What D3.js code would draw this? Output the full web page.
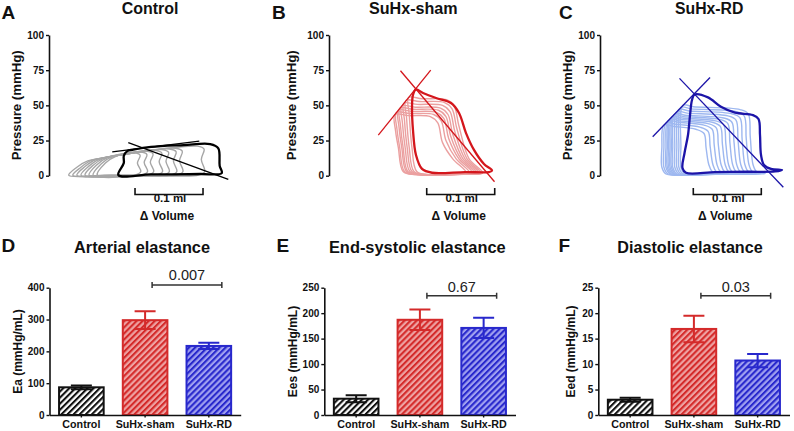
<!DOCTYPE html>
<html>
<head>
<meta charset="utf-8">
<script src="https://cdn.jsdelivr.net/npm/d3@7/dist/d3.min.js"></script>
<style>
  html, body { margin: 0; padding: 0; background: #ffffff; }
  svg { display: block; font-family: "Liberation Sans", Arial, Helvetica, sans-serif; }
</style>
</head>
<body>
<svg id="chart" width="794" height="431"></svg>
<script>
// ---------------- DATA ----------------
// Pressure-volume loops: [relative volume (µL), pressure (mmHg)]
const pvYTicks = [0, 25, 50, 75, 100];
const pvTitles = ["Control", "SuHx-sham", "SuHx-RD"];
const pvLetters = ["A", "B", "C"];
const scaleBarStart = [126.5, 143.7, 137.2];   // µL
const scaleBarLength = 100;                    // µL = 0.1 ml

const controlGrayLoops = [
  [[29,0.3],[41,6],[57,10.5],[79,12.5],[124,16.5],[134,14.5],[130,9],[135,3],[126,0.4],[82,0.3]],
  [[35,0.3],[47,6],[63,11],[85,13],[134,17],[144,15],[140,9.4],[145,3],[136,0.4],[90,0.3]],
  [[41,0.3],[53,6.5],[69,11.5],[91,13.5],[143,17.5],[153,15.5],[149,9.6],[154,3],[145,0.4],[97,0.3]],
  [[47,0.3],[59,7],[75,12],[97,14],[156,18],[166,16],[162,9.9],[167,3],[158,0.4],[106,0.3]],
  [[53,0.3],[65,7.5],[81,12.5],[103,14.5],[166,18.5],[176,16.5],[172,10.2],[177,3],[168,0.4],[114,0.3]],
  [[59,0.3],[71,8],[87,13],[109,15],[177,19],[187,17],[183,10.5],[188,3],[179,0.4],[123,0.3]],
  [[65,0.3],[77,8.5],[93,13.5],[115,15.5],[186,19.5],[196,17.5],[192,10.7],[197,3],[188,0.4],[130,0.3]],
  [[71,0.3],[83,9],[99,14],[121,16],[218,21],[228,19],[224,11.5],[229,3],[220,0.4],[150,0.3]]
];
const controlBoldLoop = [[102,0.5],[110,9],[110,14],[115,17.5],[124,18.5],[150,20.5],[198,21.8],[237,22.5],[249,19.5],[251,7],[254,1.8],[222,1.2],[150,0.9]];
const controlEspvr = [[93,17],[221,24.5]];
const controlEa = [[116.6,23.5],[263.7,-2.6]];

const shamPaleLoops = [
  [[97,43.5],[117,42.7],[149,42],[160,37.5],[167,23.5],[182,12],[202,2],[177,1],[127,0.8],[109,3],[102,20],[98,31.5]],
  [[99,45],[119,44.2],[154,43.5],[165,39],[172,25],[187,12],[207,2],[182,1],[129,0.8],[111,3],[104,20],[100,33]],
  [[102,46.5],[122,45.7],[158,45],[169,40.5],[176,26.5],[191,12],[211,2],[186,1],[132,0.8],[114,3],[107,20],[103,34.5]],
  [[104,48],[124,47.2],[161,46.5],[172,42],[179,28],[194,12],[214,2],[189,1],[134,0.8],[116,3],[109,20],[105,36]],
  [[107,49.5],[127,48.7],[164,48],[175,43.5],[182,29.5],[197,12],[217,2],[192,1],[137,0.8],[119,3],[112,20],[108,37.5]],
  [[110,51.5],[130,50.7],[167,50],[178,45.5],[185,31.5],[200,12],[220,2],[195,1],[140,0.8],[122,3],[115,20],[111,39.5]],
  [[113,53.5],[133,52.7],[170,52],[181,47.5],[188,33.5],[203,12],[223,2],[198,1],[143,0.8],[125,3],[118,20],[114,41.5]],
  [[117,55.5],[137,54.7],[173,54],[184,49.5],[191,35.5],[206,12],[226,2],[201,1],[147,0.8],[129,3],[122,20],[118,43.5]]
];
const shamBoldLoop = [[127.9,61.3],[138.2,58.8],[157.4,55.2],[179.4,51.7],[191.2,44.6],[201.5,30.3],[213.2,18.3],[227.9,8.3],[239.7,3.7],[235.3,2.6],[200,2.6],[151.5,2.1],[136.8,4.8],[127.9,14.7],[123.5,32.5],[122.1,48.1],[123.5,57.4]];
const shamEspvr = [[72.5,28.9],[149.6,75.1]];
const shamEa = [[105.1,74.6],[243.4,-4.3]];

const rdPaleLoops = [
  [[94,36],[109,35],[141,33],[153,30],[156,19.8],[160,8],[165,3],[178,1.5],[124,1],[97,1.2],[91,6],[91,20]],
  [[97,37.5],[112,36.5],[147,34.5],[159,31.5],[162,20.6],[166,8],[171,3],[184,1.5],[128,1],[100,1.2],[94,6],[94,20]],
  [[100,39],[115,38],[153,36],[165,33],[168,21.5],[172,8],[177,3],[190,1.5],[132,1],[103,1.2],[97,6],[97,20]],
  [[102,40],[117,39],[159,37],[171,34],[174,22],[178,8],[183,3],[196,1.5],[136,1],[105,1.2],[99,6],[99,20]],
  [[104,41],[119,40],[165,38],[177,35],[180,22.5],[184,8],[189,3],[202,1.5],[140,1],[107,1.2],[101,6],[101,20]],
  [[106,42],[121,41],[170,39],[182,36],[185,23],[189,8],[194,3],[207,1.5],[144,1],[109,1.2],[103,6],[103,20]],
  [[108,43],[123,42],[176,40],[188,37],[191,23.6],[195,8],[200,3],[213,1.5],[148,1],[111,1.2],[105,6],[105,20]],
  [[110,44],[125,43],[182,41],[194,38],[197,24.2],[201,8],[206,3],[219,1.5],[152,1],[113,1.2],[107,6],[107,20]],
  [[113,45.5],[128,44.5],[188,42.5],[200,39.5],[203,25],[207,8],[212,3],[225,1.5],[156,1],[116,1.2],[110,6],[110,20]],
  [[116,47],[131,46],[194,44],[206,41],[209,25.9],[213,8],[218,3],[231,1.5],[161,1],[119,1.2],[113,6],[113,20]],
  [[119,48.5],[134,47.5],[200,45.5],[212,42.5],[215,26.7],[219,8],[224,3],[237,1.5],[165,1],[122,1.2],[116,6],[116,20]],
  [[122,50],[137,49],[206,47],[218,44],[221,27.5],[225,8],[230,3],[243,1.5],[170,1],[125,1.2],[119,6],[119,20]]
];
const rdBoldLoop = [[139,57.7],[158.8,55.7],[177.9,49],[198.5,44.8],[225,43.1],[233.1,40.3],[235.3,28.9],[236.8,14.7],[241.2,7.6],[251.5,4.8],[267.6,4.1],[257.4,3],[217.6,2.8],[169.1,2.6],[126.5,2.1],[121.3,5.5],[124.3,16.1],[129.4,28.9],[132.4,43.1],[135.3,53.8]];
const rdEspvr = [[77.5,27.7],[161.8,69.8]];
const rdEa = [[116.9,69.2],[269.6,-8.2]];

// Bar charts
const groups = ["Control", "SuHx-sham", "SuHx-RD"];
const eaMean = [87, 298, 217];
const eaSem = [6, 28, 10];
const eesMean = [32, 187, 171];
const eesSem = [7, 20, 20];
const eedMean = [3.0, 16.9, 10.7];
const eedSem = [0.4, 2.6, 1.3];
const eaTicks = [0, 100, 200, 300, 400];
const eesTicks = [0, 50, 100, 150, 200, 250];
const eedTicks = [0, 5, 10, 15, 20, 25];
const barTitles = ["Arterial elastance", "End-systolic elastance", "Diastolic elastance"];
const barLetters = ["D", "E", "F"];
const barYLabels = ["Ea (mmHg/mL)", "Ees (mmHg/mL)", "Eed (mmHg/mL)"];
const pValues = ["0.007", "0.67", "0.03"];

// ---------------- DRAW ----------------
const svg = d3.select("#chart");
svg.append("rect").attr("width", 794).attr("height", 431).attr("fill", "#fff");
const defs = svg.append("defs");

function hatch(id, bg, fg) {
  const w = 4.3;
  const p = defs.append("pattern").attr("id", id)
    .attr("patternUnits", "userSpaceOnUse")
    .attr("width", w).attr("height", w)
    .attr("patternTransform", "rotate(45)");
  p.append("rect").attr("width", w).attr("height", w).attr("fill", bg);
  p.append("rect").attr("width", 2.1).attr("height", w).attr("fill", fg);
}
hatch("hCtrl", "#ffffff", "#111111");
hatch("hSham", "#eea2a2", "#d42a2a");
hatch("hRd", "#a0a0f0", "#2828cc");

const groupStyle = [
  { fill: "url(#hCtrl)", stroke: "#111111" },
  { fill: "url(#hSham)", stroke: "#d42a2a" },
  { fill: "url(#hRd)", stroke: "#2828cc" }
];

function styleAxis(g, fs) {
  g.selectAll(".domain").attr("stroke", "#111").attr("stroke-width", 1.6);
  g.selectAll(".tick line").attr("stroke", "#111").attr("stroke-width", 1.4);
  g.selectAll(".tick text").attr("font-size", fs).attr("font-weight", "bold")
    .attr("fill", "#111").attr("font-family", "Liberation Sans, Arial, sans-serif");
}

function titleText(x, y, txt, len, size) {
  svg.append("text").attr("x", x).attr("y", y).attr("text-anchor", "middle")
    .attr("font-size", size).attr("font-weight", "bold").attr("fill", "#111")
    .attr("textLength", len).attr("lengthAdjust", "spacingAndGlyphs").text(txt);
}
function letterText(x, y, txt) {
  svg.append("text").attr("x", x).attr("y", y).attr("font-size", 19)
    .attr("font-weight", "bold").attr("fill", "#111").text(txt);
}
function rotLabel(xBase, yCenter, txt, size, len) {
  const t = svg.append("text").attr("transform", `translate(${xBase},${yCenter}) rotate(-90)`)
    .attr("text-anchor", "middle").attr("font-size", size).attr("font-weight", "bold")
    .attr("fill", "#111").text(txt);
  if (len) t.attr("textLength", len).attr("lengthAdjust", "spacingAndGlyphs");
}

// ---- PV panels ----
const pvAxisX = [49, 329, 600];
const pvTitleX = [150, 413.3, 709.2];
const pvTitleLen = [56.7, 88.7, 68.3];
const pvLetterX = [1.5, 272, 559];
const pvYLabelX = [20.5, 295.5, 571.5];
const pvData = [
  { pale: controlGrayLoops, bold: controlBoldLoop, espvr: controlEspvr, ea: controlEa,
    paleColor: "#a6a6a6", boldColor: "#000000", paleW: 1.4 },
  { pale: shamPaleLoops, bold: shamBoldLoop, espvr: shamEspvr, ea: shamEa,
    paleColor: "#eba0a0", boldColor: "#d4161c", paleW: 1.4 },
  { pale: rdPaleLoops, bold: rdBoldLoop, espvr: rdEspvr, ea: rdEa,
    paleColor: "#9eb8f0", boldColor: "#1c14a8", paleW: 1.4 }
];

const yP = d3.scaleLinear().domain([0, 100]).range([175.7, 35]);

pvData.forEach((pd, i) => {
  const ax = pvAxisX[i];
  const xV = d3.scaleLinear().domain([0, 300]).range([ax, ax + 204]);
  const loopLine = d3.line().x(d => xV(d[0])).y(d => yP(d[1]))
    .curve(d3.curveCatmullRomClosed.alpha(0.5));
  const straight = d3.line().x(d => xV(d[0])).y(d => yP(d[1]));
  const g = svg.append("g");
  g.selectAll("path.pale").data(pd.pale).join("path").attr("class", "pale")
    .attr("d", loopLine).attr("fill", "none").attr("stroke", pd.paleColor)
    .attr("stroke-width", pd.paleW).attr("stroke-linejoin", "round");
  g.append("path").attr("d", loopLine(pd.bold)).attr("fill", "none")
    .attr("stroke", pd.boldColor).attr("stroke-width", 2.3).attr("stroke-linejoin", "round");
  [pd.espvr, pd.ea].forEach(l => {
    g.append("path").attr("d", straight(l)).attr("fill", "none")
      .attr("stroke", pd.boldColor).attr("stroke-width", 1.3);
  });

  const yAx = svg.append("g").attr("transform", `translate(${ax},0)`)
    .call(d3.axisLeft(yP).tickValues(pvYTicks).tickSize(3).tickSizeOuter(0).tickPadding(2));
  styleAxis(yAx, 10);

  // scale bar
  const sb0 = xV(scaleBarStart[i]), sb1 = xV(scaleBarStart[i] + scaleBarLength);
  svg.append("path").attr("d", `M${sb0},188 L${sb0},194.5 L${sb1},194.5 L${sb1},188`)
    .attr("fill", "none").attr("stroke", "#111").attr("stroke-width", 1.6);
  const cx = (sb0 + sb1) / 2;
  svg.append("text").attr("x", cx + 1).attr("y", 202).attr("text-anchor", "middle")
    .attr("font-size", 11.5).attr("font-weight", "bold").attr("fill", "#111").text("0.1 ml");
  svg.append("text").attr("x", cx - 2).attr("y", 220).attr("text-anchor", "middle")
    .attr("font-size", 12).attr("font-weight", "bold").attr("fill", "#111").text("\u0394 Volume");

  titleText(pvTitleX[i], 14, pvTitles[i], pvTitleLen[i], 16);
  letterText(pvLetterX[i], 18.5, pvLetters[i]);
  rotLabel(pvYLabelX[i], 105.3, "Pressure (mmHg)", 12.5, 110);
});

// ---- Bar panels ----
const barAxisX = [49.5, 324.3, 598.3];
const barTitleX = [142, 417.3, 690];
const barTitleLen = [136, 176.7, 145.4];
const barLetterX = [1.5, 276.5, 558.5];
const barYLabelX = [22, 296.5, 575];
const barMeans = [eaMean, eesMean, eedMean];
const barSems = [eaSem, eesSem, eedSem];
const barTicks = [eaTicks, eesTicks, eedTicks];
const bracketY = [285, 295.7, 295.7];
const pTextY = [280, 291.7, 291.7];

barMeans.forEach((means, i) => {
  const ax = barAxisX[i];
  const ticks = barTicks[i];
  const y = d3.scaleLinear().domain([0, d3.max(ticks)]).range([415, 287.7]);
  const x = d3.scaleBand().domain(groups).range([ax, ax + 191.2])
    .paddingInner(0.3).paddingOuter(0.15);
  const g = svg.append("g");
  groups.forEach((grp, j) => {
    const st = groupStyle[j];
    g.append("rect").attr("x", x(grp)).attr("y", y(means[j]))
      .attr("width", x.bandwidth()).attr("height", y(0) - y(means[j]))
      .attr("fill", st.fill).attr("stroke", st.stroke).attr("stroke-width", 2);
    const cx = x(grp) + x.bandwidth() / 2;
    const hi = y(means[j] + barSems[i][j]), lo = y(means[j] - barSems[i][j]);
    const cw = 10.5;
    g.append("path").attr("d", `M${cx},${lo} L${cx},${hi} M${cx - cw},${hi} L${cx + cw},${hi} M${cx - cw},${lo} L${cx + cw},${lo}`)
      .attr("fill", "none").attr("stroke", st.stroke).attr("stroke-width", 2);
  });
  const yAx = svg.append("g").attr("transform", `translate(${ax},0)`)
    .call(d3.axisLeft(y).tickValues(ticks).tickSize(3).tickSizeOuter(0).tickPadding(2));
  styleAxis(yAx, 10);
  const xAx = svg.append("g").attr("transform", `translate(0,${y(0)})`)
    .call(d3.axisBottom(x).tickSize(2.5).tickSizeOuter(0).tickPadding(3));
  styleAxis(xAx, 10.7);

  // significance bracket between SuHx-sham and SuHx-RD
  const b0 = x(groups[1]) + x.bandwidth() / 2 + 7;
  const b1 = x(groups[2]) + x.bandwidth() / 2 + 13;
  const by = bracketY[i];
  svg.append("path").attr("d", `M${b0},${by - 3} L${b0},${by + 3} M${b0},${by} L${b1},${by} M${b1},${by - 3} L${b1},${by + 3}`)
    .attr("fill", "none").attr("stroke", "#333").attr("stroke-width", 1.5);
  svg.append("text").attr("x", (b0 + b1) / 2).attr("y", pTextY[i]).attr("text-anchor", "middle")
    .attr("font-size", 14.5).attr("fill", "#222").text(pValues[i]);

  titleText(barTitleX[i], 253.3, barTitles[i], barTitleLen[i], 16);
  letterText(barLetterX[i], 252, barLetters[i]);
  rotLabel(barYLabelX[i], 351.5, barYLabels[i], 12);
});
</script>
</body>
</html>
